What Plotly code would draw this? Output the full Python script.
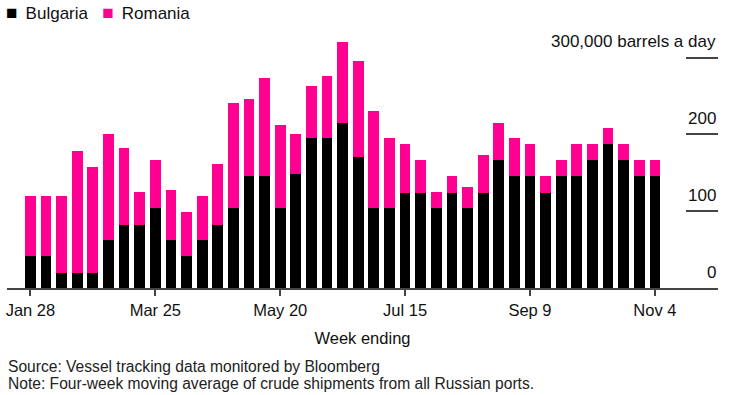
import pandas as pd
import plotly.graph_objects as go

# Week-ending dates (weekly, Jan 28 to Nov 4)
weeks = pd.date_range("2022-01-28", periods=41, freq="7D")

# Thousand barrels a day (four-week moving average)
bulgaria = [42, 42, 20, 20, 20, 62, 82, 82, 104, 62,
            42, 62, 82, 104, 146, 146, 104, 148, 195, 195,
            215, 170, 104, 104, 124, 124, 104, 124, 104, 124,
            167, 146, 146, 124, 146, 146, 167, 188, 167, 146,
            146]
romania = [78, 78, 100, 158, 138, 138, 100, 43, 63, 65,
           57, 58, 79, 137, 100, 127, 108, 52, 68, 81,
           105, 125, 127, 91, 64, 43, 21, 22, 27, 49,
           48, 49, 42, 22, 21, 42, 21, 21, 21, 21,
           21]

x_tick_dates = ["2022-01-28", "2022-03-25", "2022-05-20", "2022-07-15", "2022-09-09", "2022-11-04"]
x_tick_labels = ["Jan 28", "Mar 25", "May 20", "Jul 15", "Sep 9", "Nov 4"]
y_tick_vals = [0, 100, 200, 300]
y_tick_labels = ["0", "100", "200", "300,000 barrels a day"]

FONT = "Liberation Sans, Arial, sans-serif"
PINK = "#ff0090"
AXIS = "#444444"
TEXT = "#111111"

fig = go.Figure()
fig.add_trace(go.Bar(x=weeks, y=bulgaria, name="Bulgaria",
                     marker=dict(color="#000000", line=dict(width=0))))
fig.add_trace(go.Bar(x=weeks, y=romania, name="Romania",
                     marker=dict(color=PINK, line=dict(width=0))))

x0 = pd.Timestamp("2022-01-28") - pd.Timedelta(days=10.5)
x1 = pd.Timestamp("2022-11-04") + pd.Timedelta(days=28.3)

NB = "\u00a0"
SQ = '<span style="color:{c};font-size:19px">■</span>'
legend_text = (SQ.format(c="#000000") + f"{NB}\u2009Bulgaria{NB*3}"
               + SQ.format(c=PINK) + f"{NB}\u2009Romania")

annotations = [
    dict(text=legend_text, xref="paper", yref="paper", x=0.0, y=1.066, xshift=-3,
         xanchor="left", yanchor="middle", showarrow=False,
         font=dict(size=17, color=TEXT)),
    dict(text="Source: Vessel tracking data monitored by Bloomberg",
         xref="paper", yref="paper", x=0.0, y=-0.3060, xshift=-1, xanchor="left", yanchor="middle",
         showarrow=False, font=dict(size=15.6, color="#222222")),
    dict(text="Note: Four-week moving average of crude shipments from all Russian ports.",
         xref="paper", yref="paper", x=0.0, y=-0.3700, xshift=-1, xanchor="left", yanchor="middle",
         showarrow=False, font=dict(size=15.6, color="#222222")),
]
# y-axis labels sit above the short tick lines at the right edge
for v, t in zip(y_tick_vals, y_tick_labels):
    annotations.append(dict(text=t, xref="paper", yref="y", x=1.0, y=v, xshift=0, yshift=16,
                            xanchor="right", yanchor="middle", showarrow=False,
                            font=dict(size=17, color=TEXT)))

fig.update_layout(
    width=730, height=395,
    margin=dict(l=7, r=12, t=30, b=107, autoexpand=False),
    barmode="stack", bargap=0.31,
    plot_bgcolor="white", paper_bgcolor="white",
    font=dict(family=FONT, size=16, color=TEXT),
    showlegend=False,
    xaxis=dict(
        type="date", range=[x0, x1],
        tickvals=x_tick_dates, ticktext=x_tick_labels,
        showgrid=False, zeroline=False,
        showline=True, linecolor=AXIS, linewidth=1.5,
        ticks="outside", ticklen=6, tickwidth=1.5, tickcolor=AXIS,
        tickfont=dict(size=16.5, color=TEXT),
        title=dict(text="Week ending", font=dict(size=16.5, color=TEXT), standoff=15),
        automargin=False,
    ),
    yaxis=dict(
        range=[0, 336], side="right",
        tickvals=y_tick_vals, showticklabels=False,
        showgrid=False, zeroline=False, showline=False,
        ticks="inside", ticklen=32, tickwidth=1.5, tickcolor=AXIS,
        automargin=False,
    ),
    annotations=annotations,
)

fig.write_html("out.html", config={"displayModeBar": False},
               post_script="document.body.style.margin='0';document.body.style.overflow='hidden';")
